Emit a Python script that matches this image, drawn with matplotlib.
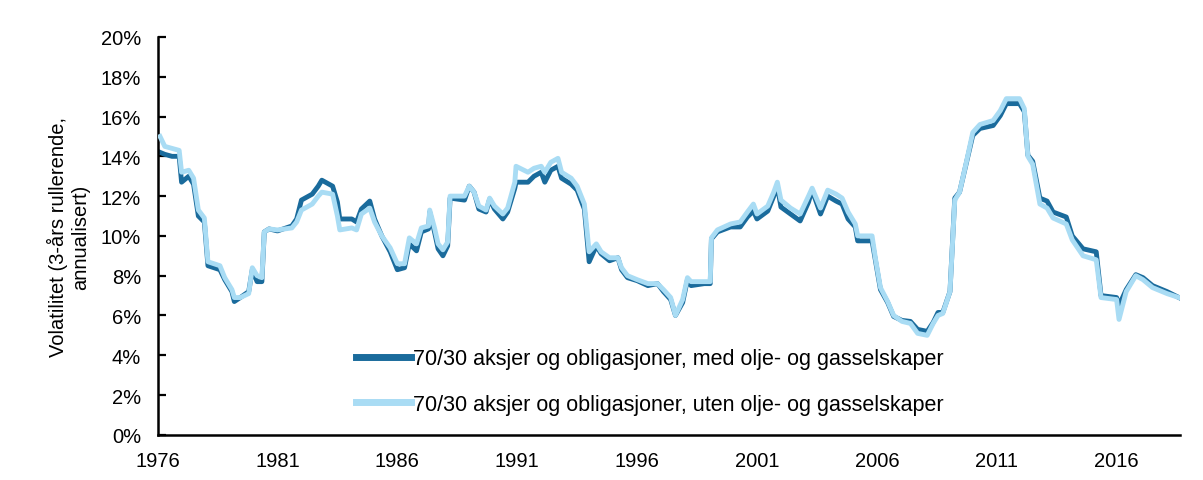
import matplotlib
matplotlib.use("Agg")
import matplotlib.pyplot as plt
from matplotlib.ticker import FuncFormatter

plt.rcParams['font.family'] = ['Liberation Sans', 'DejaVu Sans']

# Time axis (years) and 3-year rolling annualised volatility (%)
years = [1976.1, 1976.3, 1976.6, 1976.9, 1977.0, 1977.3, 1977.5, 1977.7, 1977.95, 1978.1,
         1978.6, 1978.8, 1979.1, 1979.2, 1979.45, 1979.8, 1979.95, 1980.15, 1980.35, 1980.45,
         1980.65, 1981.0, 1981.6, 1981.8, 1982.0, 1982.45, 1982.7, 1982.85, 1983.3, 1983.5,
         1983.6, 1984.1, 1984.3, 1984.5, 1984.85, 1985.05, 1985.35, 1985.7, 1986.0, 1986.3,
         1986.5, 1986.8, 1987.0, 1987.3, 1987.35, 1987.55, 1987.7, 1987.9, 1988.1, 1988.2,
         1988.8, 1989.0, 1989.2, 1989.4, 1989.7, 1989.85, 1990.05, 1990.4, 1990.6, 1990.9,
         1990.95, 1991.45, 1991.7, 1992.0, 1992.15, 1992.4, 1992.7, 1992.85, 1993.25, 1993.5,
         1993.8, 1994.0, 1994.3, 1994.5, 1994.85, 1995.2, 1995.35, 1995.6, 1996.0, 1996.45,
         1996.85, 1997.1, 1997.4, 1997.6, 1997.9, 1998.1, 1998.25, 1998.8, 1999.05, 1999.1,
         1999.35, 1999.9, 2000.3, 2000.6, 2000.85, 2001.0, 2001.45, 2001.7, 2001.85, 2002.0,
         2002.4, 2002.8, 2003.15, 2003.3, 2003.65, 2003.95, 2004.3, 2004.55, 2004.8, 2005.1,
         2005.2, 2005.8, 2005.95, 2006.15, 2006.45, 2006.7, 2007.05, 2007.4, 2007.7, 2008.1,
         2008.35, 2008.55, 2008.75, 2009.05, 2009.25, 2009.45, 2009.75, 2010.0, 2010.3, 2010.85,
         2011.15, 2011.4, 2011.95, 2012.15, 2012.3, 2012.5, 2012.8, 2013.1, 2013.35, 2013.9,
         2014.15, 2014.6, 2015.15, 2015.35, 2016.0, 2016.1, 2016.4, 2016.8, 2017.1, 2017.5,
         2018.1, 2018.6]

with_oil = [14.2, 14.1, 14.0, 14.0, 12.7, 13.0, 12.6, 11.0, 10.7, 8.5,
            8.3, 7.8, 7.2, 6.7, 6.9, 7.2, 8.3, 7.7, 7.7, 10.2,
            10.35, 10.25, 10.5, 10.85, 11.8, 12.1, 12.5, 12.8, 12.5, 11.7,
            10.85, 10.85, 10.7, 11.35, 11.75, 10.85, 10.0, 9.2, 8.3, 8.4,
            9.6, 9.25, 10.2, 10.35, 11.2, 10.2, 9.35, 9.0, 9.5, 11.9,
            11.8, 12.5, 12.2, 11.35, 11.2, 11.85, 11.35, 10.85, 11.2, 12.4,
            12.7, 12.7, 13.0, 13.2, 12.7, 13.3, 13.5, 12.9, 12.6, 12.3,
            11.35, 8.7, 9.5, 9.1, 8.75, 8.9, 8.3, 7.9, 7.75, 7.5,
            7.6, 7.2, 6.8, 6.0, 6.65, 7.8, 7.5, 7.6, 7.6, 9.85,
            10.2, 10.45, 10.45, 10.95, 11.25, 10.85, 11.25, 12.0, 12.5, 11.45,
            11.1, 10.75, 11.7, 12.3, 11.1, 12.0, 11.75, 11.6, 10.85, 10.45,
            9.75, 9.75, 8.7, 7.3, 6.65, 5.95, 5.75, 5.7, 5.3, 5.2,
            5.65, 6.15, 6.15, 7.2, 11.9, 12.2, 13.75, 15.05, 15.4, 15.55,
            16.05, 16.65, 16.65, 16.25, 14.05, 13.75, 11.9, 11.75, 11.2, 10.95,
            10.0, 9.35, 9.2, 7.0, 6.9, 6.5, 7.3, 8.05, 7.9, 7.5,
            7.2, 6.9]

without_oil = [15.0, 14.5, 14.4, 14.3, 13.2, 13.3, 12.9, 11.3, 10.9, 8.7,
               8.5, 7.9, 7.3, 6.9, 6.9, 7.1, 8.4, 8.0, 7.9, 10.2,
               10.35, 10.3, 10.4, 10.7, 11.3, 11.6, 12.0, 12.2, 12.1, 11.0,
               10.3, 10.4, 10.3, 11.1, 11.4, 10.7, 10.0, 9.4, 8.6, 8.6,
               9.9, 9.6, 10.4, 10.5, 11.3, 10.4, 9.6, 9.3, 9.7, 12.0,
               12.0, 12.5, 12.2, 11.5, 11.3, 11.9, 11.5, 11.1, 11.4, 12.7,
               13.5, 13.2, 13.4, 13.5, 13.2, 13.7, 13.9, 13.2, 12.9, 12.5,
               11.6, 9.2, 9.6, 9.2, 8.9, 8.9, 8.4, 8.0, 7.8, 7.6,
               7.6, 7.3, 6.9, 6.0, 6.8, 7.9, 7.7, 7.7, 7.7, 9.9,
               10.3, 10.6, 10.7, 11.2, 11.6, 11.1, 11.5, 12.2, 12.7, 11.8,
               11.4, 11.1, 12.0, 12.4, 11.4, 12.3, 12.1, 11.9, 11.2, 10.6,
               10.0, 10.0, 8.8, 7.4, 6.7, 6.0, 5.7, 5.6, 5.1, 5.0,
               5.6, 6.0, 6.1, 7.2, 11.8, 12.2, 13.8, 15.2, 15.6, 15.8,
               16.3, 16.9, 16.9, 16.4, 14.0, 13.6, 11.6, 11.4, 10.9, 10.6,
               9.8, 9.0, 8.8, 6.9, 6.8, 5.8, 7.2, 8.0, 7.8, 7.4,
               7.1, 6.9]

label_with = "70/30 aksjer og obligasjoner, med olje- og gasselskaper"
label_without = "70/30 aksjer og obligasjoner, uten olje- og gasselskaper"
year_ticks = [1976, 1981, 1986, 1991, 1996, 2001, 2006, 2011, 2016]
pct_ticks = [0, 2, 4, 6, 8, 10, 12, 14, 16, 18, 20]

fig = plt.figure(figsize=(12.03, 4.81), dpi=100)
ax = fig.add_axes([0.131, 0.094, 0.850, 0.827])

ax.plot(years, with_oil, color='#1a6b9c', linewidth=3.5, label=label_with, zorder=2)
ax.plot(years, without_oil, color='#a9dcf4', linewidth=3.5, label=label_without, zorder=3)

ax.set_xlim(1976, 2018.65)
ax.set_ylim(0, 20)
ax.set_xticks(year_ticks)
ax.set_yticks(pct_ticks)
ax.yaxis.set_major_formatter(FuncFormatter(lambda v, p: f"{v:.0f}%"))
ax.tick_params(axis='both', labelsize=14.5, colors='black')
ax.tick_params(axis='x', length=0, pad=12)
ax.tick_params(axis='y', length=6, width=1.6, direction='in', pad=12)

ax.spines['top'].set_visible(False)
ax.spines['right'].set_visible(False)
ax.spines['left'].set_linewidth(1.8)
ax.spines['bottom'].set_linewidth(1.8)

ax.set_ylabel("Volatilitet (3-års rullerende,\nannualisert)", fontsize=14.5)
ax.yaxis.set_label_coords(-0.066, 0.5)

leg = ax.legend(loc='upper left', bbox_to_anchor=(0.194, 0.2175), frameon=False,
                fontsize=15.5, handlelength=2.55, handletextpad=0.1, labelspacing=1.14,
                borderpad=0, borderaxespad=0)
for line in leg.get_lines():
    line.set_linewidth(5)

fig.savefig('out.png', dpi=100)
